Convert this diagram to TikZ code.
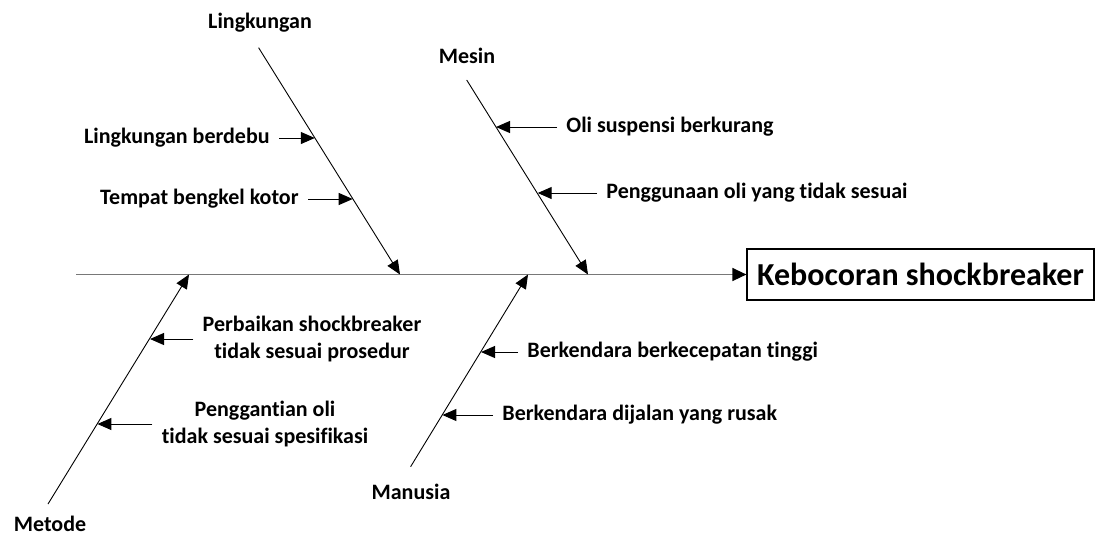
\documentclass[tikz,border=0pt]{standalone}
\usepackage{fontspec}
\setmainfont{Carlito}[Ligatures=NoCommon]
\usetikzlibrary{arrows.meta}
\definecolor{SpineGray}{RGB}{120,120,120}

\begin{document}
\begin{tikzpicture}[x=0.5pt, y=-0.5pt,
    cause/.style={font=\fontsize{11}{13.5}\selectfont\bfseries, inner sep=1pt},
    bone/.style={-{Triangle[length=7pt, width=6pt, color=black]}, line width=0.45pt},
    twig/.style={-{Triangle[length=7pt, width=6pt, color=black]}, line width=0.5pt, shorten <=3.5pt}]
    \useasboundingbox (0,0) rectangle (1096,537);

    % Spine and effect
    \node[draw, line width=0.6pt, minimum width=173.5pt, minimum height=25.5pt, inner sep=0pt,
          font=\fontsize{16}{19}\selectfont\bfseries] (effect) at (920.5,274.5) {Kebocoran shockbreaker};
    \coordinate (tail) at (76,274.5);
    \draw[SpineGray, line width=0.7pt, -{Triangle[length=7pt, width=6.5pt, color=black]}] (tail) -- (effect.west);

    % Lingkungan
    \node[cause] (lingkungan) at (260,23) {Lingkungan};
    \coordinate (ling0) at (258.6,47.7);
    \coordinate (ling1) at (400,274.5);
    \draw[bone] (ling0) -- (ling1);
    \node[cause, anchor=east] (berdebu) at (272,138) {Lingkungan berdebu};
    \coordinate (ling2) at (314.8,138);
    \draw[twig] (berdebu) -- (ling2);
    \node[cause, anchor=east] (kotor) at (301,199) {Tempat bengkel kotor};
    \coordinate (ling3) at (352.7,199);
    \draw[twig] (kotor) -- (ling3);

    % Mesin
    \node[cause] (mesin) at (467,56) {Mesin};
    \coordinate (mes0) at (466.7,80);
    \coordinate (mes1) at (588,274.5);
    \draw[bone] (mes0) -- (mes1);
    \node[cause, anchor=west] (berkurang) at (564,127) {Oli suspensi berkurang};
    \coordinate (mes2) at (496,127);
    \draw[twig] (berkurang) -- (mes2);
    \node[cause, anchor=west] (olisesuai) at (604,193) {Penggunaan oli yang tidak sesuai};
    \coordinate (mes3) at (537.7,193);
    \draw[twig] (olisesuai) -- (mes3);

    % Metode
    \node[cause] (metode) at (50,524) {Metode};
    \coordinate (met0) at (48,504);
    \coordinate (met1) at (189,274.5);
    \draw[bone] (met0) -- (met1);
    \node[cause, align=center] (prosedur) at (312,339) {Perbaikan shockbreaker\\tidak sesuai prosedur};
    \coordinate (met2) at (150,339);
    \draw[twig] (prosedur) -- (met2);
    \node[cause, align=center] (spesifikasi) at (265,424) {Penggantian oli\\tidak sesuai spesifikasi};
    \coordinate (met3) at (97.4,424);
    \draw[twig] (spesifikasi) -- (met3);

    % Manusia
    \node[cause] (manusia) at (411,492) {Manusia};
    \coordinate (man0) at (410.6,466.7);
    \coordinate (man1) at (528,274.5);
    \draw[bone] (man0) -- (man1);
    \node[cause, anchor=west] (tinggi) at (525,352) {Berkendara berkecepatan tinggi};
    \coordinate (man2) at (481,352);
    \draw[twig] (tinggi) -- (man2);
    \node[cause, anchor=west] (rusak) at (500,415) {Berkendara dijalan yang rusak};
    \coordinate (man3) at (442.4,415);
    \draw[twig] (rusak) -- (man3);
\end{tikzpicture}
\end{document}
